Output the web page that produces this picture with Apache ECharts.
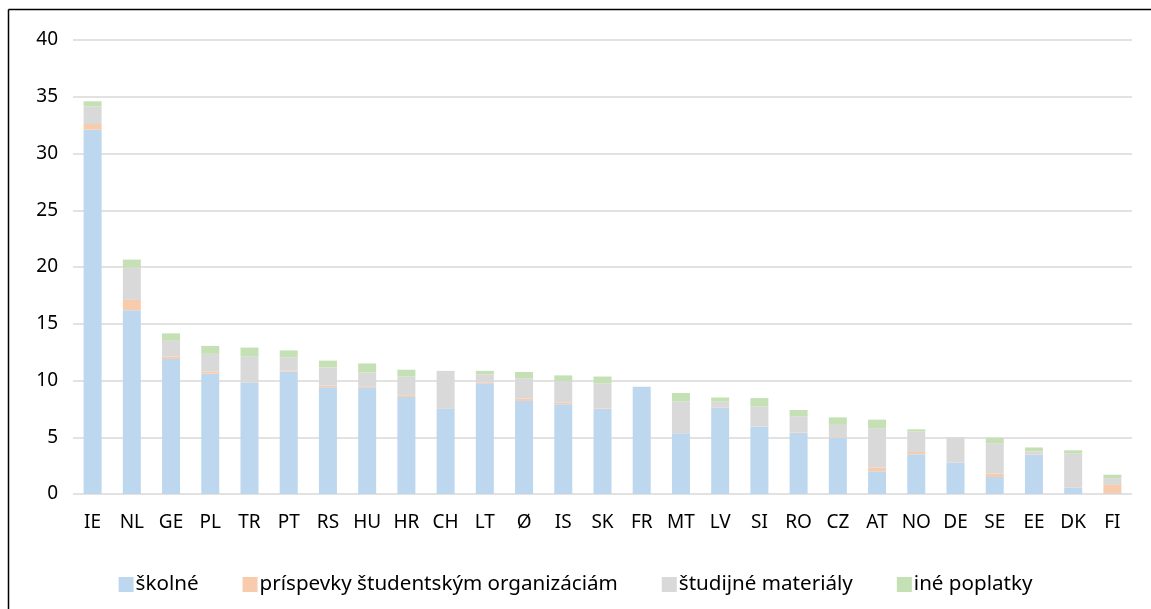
<!DOCTYPE html>
<html>
<head>
<meta charset="utf-8">
<script src="https://cdn.jsdelivr.net/npm/echarts@6/dist/echarts.min.js"></script>
<style>
  html, body { margin: 0; padding: 0; background: #fff; }
  #chart { width: 1151px; height: 609px; }
</style>
</head>
<body>
<div id="chart"></div>
<script>
var countries = ['IE', 'NL', 'GE', 'PL', 'TR', 'PT', 'RS', 'HU', 'HR', 'CH', 'LT', 'Ø', 'IS', 'SK',
  'FR', 'MT', 'LV', 'SI', 'RO', 'CZ', 'AT', 'NO', 'DE', 'SE', 'EE', 'DK', 'FI'];

var skolne = [32.1, 16.2, 11.9, 10.6, 9.8, 10.8, 9.4, 9.4, 8.55, 7.5, 9.75, 8.2, 7.9, 7.5,
  9.45, 5.35, 7.6, 5.95, 5.4, 4.95, 2.0, 3.5, 2.75, 1.5, 3.45, 0.55, 0.05];
var prispevky = [0.5, 0.9, 0.2, 0.2, 0, 0.1, 0.15, 0.1, 0.15, 0, 0.1, 0.2, 0.15, 0.05,
  0, 0, 0.05, 0, 0.05, 0.05, 0.35, 0.2, 0, 0.3, 0.05, 0.05, 0.75];
var materialy = [1.55, 2.85, 1.4, 1.55, 2.3, 1.15, 1.6, 1.2, 1.65, 3.35, 0.7, 1.8, 1.9, 2.2,
  0, 2.8, 0.5, 1.75, 1.4, 1.1, 3.45, 1.8, 2.25, 2.65, 0.25, 2.95, 0.6];
var ine = [0.45, 0.7, 0.65, 0.7, 0.8, 0.6, 0.6, 0.8, 0.6, 0, 0.3, 0.55, 0.5, 0.6,
  0, 0.75, 0.35, 0.75, 0.55, 0.65, 0.75, 0.2, 0, 0.5, 0.35, 0.3, 0.3];

var seriesNames = ['školné', 'príspevky študentským organizáciám', 'študijné materiály', 'iné poplatky'];
var seriesColors = ['#bdd7ee', '#f8cbad', '#d9d9d9', '#c5e0b4'];
var seriesData = [skolne, prispevky, materialy, ine];

var font = '"Noto Sans", sans-serif';

var chart = echarts.init(document.getElementById('chart'), null, { renderer: 'canvas' });

var series = seriesData.map(function each(values, i) {
  return {
    name: seriesNames[i],
    type: 'bar',
    stack: 'total',
    barWidth: 18,
    itemStyle: { color: seriesColors[i] },
    emphasis: { disabled: true },
    data: values
  };
});

var option = {
  animation: false,
  textStyle: { fontFamily: font },
  graphic: [
    {
      type: 'line',
      shape: { x1: 8.5, y1: 9.5, x2: 8.5, y2: 609 },
      style: { stroke: '#000', lineWidth: 1.5 }
    },
    {
      type: 'line',
      shape: { x1: 8.5, y1: 9.5, x2: 1151, y2: 9.5 },
      style: { stroke: '#000', lineWidth: 1.5 }
    }
  ],
  grid: {
    left: 73,
    right: 19,
    top: 40,
    bottom: 115,
    containLabel: false
  },
  legend: {
    top: 569,
    left: 'center',
    itemWidth: 15,
    itemHeight: 15,
    itemGap: 44,
    icon: 'rect',
    textStyle: { fontFamily: font, fontSize: 20.6, color: '#000', padding: [0, 0, 0, -3] },
    data: seriesNames
  },
  xAxis: {
    type: 'category',
    data: countries,
    axisLine: { show: false },
    axisTick: { show: false },
    axisLabel: {
      fontFamily: font,
      fontSize: 19,
      color: '#000',
      margin: 19,
      interval: 0
    }
  },
  yAxis: {
    type: 'value',
    min: 0,
    max: 40,
    interval: 5,
    axisLine: { show: false },
    axisTick: { show: false },
    axisLabel: {
      fontFamily: font,
      fontSize: 19,
      color: '#000',
      margin: 15
    },
    splitLine: { lineStyle: { color: '#d9d9d9', width: 1.5 } }
  },
  series: series
};

chart.setOption(option);
</script>
</body>
</html>
